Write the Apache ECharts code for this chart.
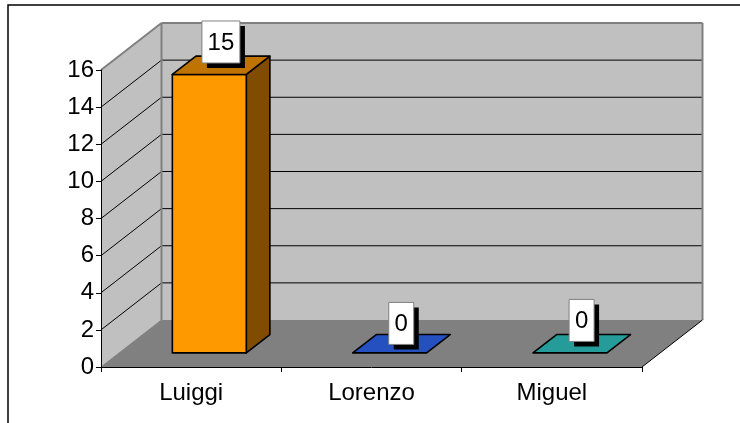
<!DOCTYPE html>
<html>
<head>
<meta charset="utf-8">
<style>
html, body { margin: 0; padding: 0; background: #fff; overflow: hidden; }
#draw { width: 740px; height: 423px; }
</style>
<script src="https://cdn.jsdelivr.net/npm/echarts@6/dist/echarts.min.js"></script>
</head>
<body>
<div id="draw"></div>
<script>
var categories = ['Luiggi', 'Lorenzo', 'Miguel'];
var votes = [15, 0, 0];
var frontColors = ['#FF9900', '#2450C0', '#259C99'];
var topColors = ['#BF7300', '#2450C0', '#259C99'];
var sideColors = ['#804D00', '#1B3C90', '#1C7573'];
// how far each value tag floats above its bar
var tagLift = [11, 8, 11];

var FONT = '"Liberation Sans", Arial, sans-serif';
// shift of the back of the box compared to the front
var DEPTH_X = 60.5;
var DEPTH_Y = -47;
var BAR_NEAR = 0.3, BAR_FAR = 0.69, BAR_WIDTH = 0.41;

function at(p, d) {
	return [p[0] + DEPTH_X * d, p[1] + DEPTH_Y * d];
}

function poly(points, fill, stroke, lineWidth) {
	return {
		type : 'polygon',
		shape : { points : points },
		style : { fill : fill, stroke : stroke || null, lineWidth : lineWidth || 0, lineJoin : 'round' }
	};
}

function seg(a, b, color, width) {
	return {
		type : 'line',
		shape : { x1 : a[0], y1 : a[1], x2 : b[0], y2 : b[1] },
		style : { stroke : color, lineWidth : width, fill : null }
	};
}

// walls, floor and the gridlines that run over them
function renderBox(params, api) {
	var band = api.size([1, 0])[0];
	var c0 = api.coord([0, 0]);
	var c2 = api.coord([categories.length - 1, 0]);
	var left = c0[0] - band / 2, right = c2[0] + band / 2;
	var base = c0[1];
	var top = api.coord([0, 16])[1];
	var kids = [];
	kids.push(poly([at([left, top], 1), at([right, top], 1), at([right, base], 1), at([left, base], 1)], '#C0C0C0'));
	kids.push(poly([[left, top], at([left, top], 1), at([left, base], 1), [left, base]], '#C0C0C0'));
	kids.push(poly([[left, base], [right, base], at([right, base], 1), at([left, base], 1)], '#808080'));
	for (var v = 2; v < 16; v += 2) {
		var y = api.coord([0, v])[1];
		kids.push(seg([left, y], at([left, y], 1), '#000', 1));
		kids.push(seg(at([left, y], 1), at([right, y], 1), '#000', 1));
	}
	kids.push(seg([left, top], at([left, top], 1), '#808080', 2));
	kids.push(seg(at([left, top], 1), at([right, top], 1), '#808080', 2));
	kids.push(seg(at([right, top], 1), at([right, base], 1), '#808080', 2));
	kids.push(seg(at([left, top], 1), at([left, base], 1), '#808080', 2));
	kids.push(seg([left, base], at([left, base], 1), '#808080', 1));
	kids.push(seg([right, base], at([right, base], 1), '#000', 1));
	return { type : 'group', children : kids };
}

function renderBar(params, api) {
	var i = api.value(0);
	var band = api.size([1, 0])[0];
	var c = api.coord([i, 0]);
	var t = api.coord([i, api.value(1)]);
	var hw = band * BAR_WIDTH / 2;
	var bl = at([c[0] - hw, c[1]], BAR_NEAR), br = at([c[0] + hw, c[1]], BAR_NEAR);
	var tl = at([c[0] - hw, t[1]], BAR_NEAR), tr = at([c[0] + hw, t[1]], BAR_NEAR);
	var off = (BAR_FAR - BAR_NEAR);
	var tl2 = at(tl, off), tr2 = at(tr, off), br2 = at(br, off);
	var s = { stroke : '#000', w : 1.6 };
	var kids = [];
	if (api.value(1) > 0) {
		kids.push(poly([tr, tr2, br2, br], sideColors[i], s.stroke, s.w));
		kids.push(poly([bl, br, tr, tl], frontColors[i], s.stroke, s.w));
	}
	kids.push(poly([tl, tr, tr2, tl2], topColors[i], s.stroke, s.w));
	return { type : 'group', children : kids };
}

function renderTag(params, api) {
	var i = api.value(0);
	var c = api.coord([i, 0]);
	var t = api.coord([i, api.value(1)]);
	var text = String(api.value(1));
	var w = 12 + 13 * text.length, h = 42;
	var cx = c[0] + DEPTH_X * 0.31 + 11;
	var bottom = t[1] + DEPTH_Y * 0.31 - tagLift[i];
	var x = cx - w / 2, y = bottom - h;
	return {
		type : 'group',
		children : [
			{ type : 'rect', shape : { x : x + 5, y : y + 5, width : w, height : h }, style : { fill : '#000' } },
			{ type : 'rect', shape : { x : x, y : y, width : w, height : h }, style : { fill : '#fff', stroke : '#808080', lineWidth : 1 } },
			{ type : 'text', style : { x : cx, y : y + h / 2 + 1, text : text, fill : '#000', font : '24px ' + FONT, align : 'center', verticalAlign : 'middle' } }
		]
	};
}

var rows = categories.map(function(name, i) {
	return [i, votes[i]];
});

var myChart = echarts.init(document.getElementById('draw'), null, { renderer : 'canvas' });
var option = {
	animation : false,
	backgroundColor : '#fff',
	textStyle : { fontFamily : FONT },
	grid : { left : 101, top : 70, width : 541, height : 297 },
	graphic : [ {
		type : 'polyline',
		shape : { points : [[8, 423], [8, 5], [740, 5]] },
		style : { stroke : '#000', lineWidth : 1.5, fill : null }
	} ],
	xAxis : {
		type : 'category',
		data : categories,
		z : 5,
		axisLine : { lineStyle : { color : '#000', width : 1 } },
		axisTick : { show : true, length : 5, lineStyle : { color : '#000' } },
		axisLabel : { color : '#000', fontSize : 24, fontFamily : FONT, margin : 14 }
	},
	yAxis : {
		type : 'value',
		min : 0,
		max : 16,
		interval : 2,
		z : 5,
		splitLine : { show : false },
		axisLine : { show : true, lineStyle : { color : '#000', width : 1 } },
		axisTick : { show : true, length : 5, lineStyle : { color : '#000' } },
		axisLabel : { color : '#000', fontSize : 24, fontFamily : FONT, margin : 7, padding : [6, 0, 0, 0] }
	},
	series : [ {
		type : 'custom',
		renderItem : renderBox,
		data : [ [0, 0] ],
		clip : false,
		silent : true,
		z : 1
	}, {
		type : 'custom',
		renderItem : renderBar,
		data : rows,
		clip : false,
		z : 2
	}, {
		type : 'custom',
		renderItem : renderTag,
		data : rows,
		clip : false,
		z : 3
	} ]
};
myChart.setOption(option);
</script>
</body>
</html>
